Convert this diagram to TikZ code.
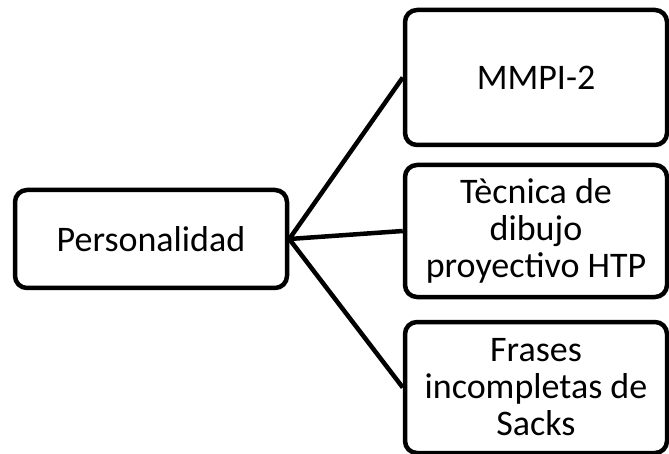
\documentclass[tikz,border=0pt]{standalone}
\usepackage{fontspec}
\setmainfont{Carlito}
\begin{document}
\begin{tikzpicture}[x=1pt,y=-1pt,
  box/.style={draw=black, line width=4.5pt, rounded corners=12pt, fill=white,
    align=center, inner sep=0pt, font=\fontsize{36}{37}\selectfont},
  link/.style={draw=black, line width=4.5pt}]
\useasboundingbox (0,0) rectangle (669,454);
\node[box, minimum width=272pt, minimum height=98pt] (p) at (151,239) {Personalidad};
\node[box, minimum width=262pt, minimum height=135pt] (m) at (536,77.5) {MMPI-2};
\node[box, minimum width=262pt, minimum height=132pt] (t) at (536,231) {Tècnica de\\dibujo\\proyectivo HTP};
\node[box, minimum width=262pt, minimum height=131pt] (f) at (536,387.5) {Frases\\incompletas de\\Sacks};
\draw[link] (p.east) -- (m.west);
\draw[link] (p.east) -- (t.west);
\draw[link] (p.east) -- (f.west);
\end{tikzpicture}
\end{document}
